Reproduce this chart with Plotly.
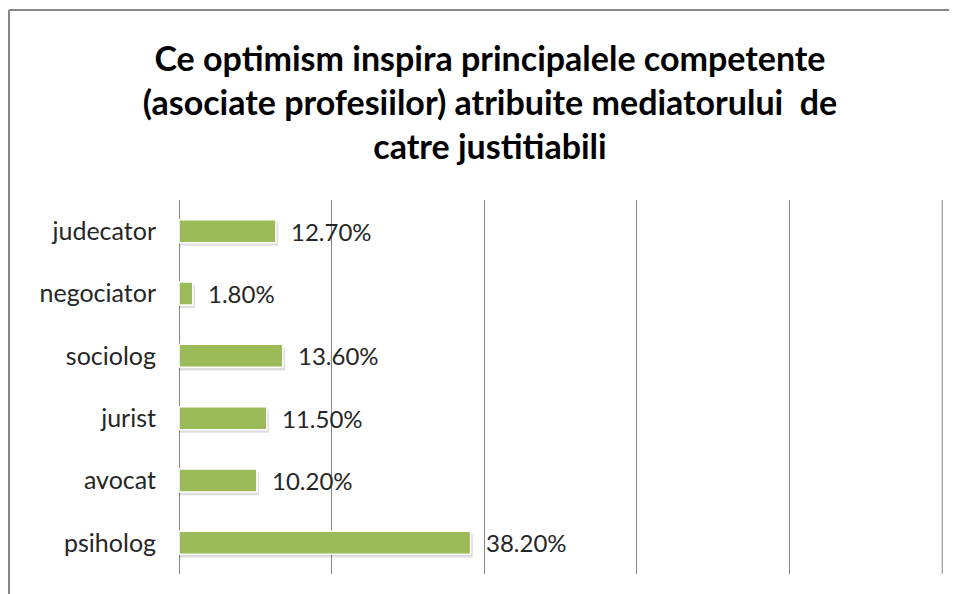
import plotly.graph_objects as go

categories = ["psiholog", "avocat", "jurist", "sociolog", "negociator", "judecator"]
values = [38.2, 10.2, 11.5, 13.6, 1.8, 12.7]
labels = [f"{v:.2f}%" for v in values]
x_max = 100

title_text = ("Ce optimism inspira principalele competente<br>"
              "(asociate profesiilor) atribuite mediatorului  de<br>"
              "catre justitiabili")

FONT = "Lato"
OFF = 8  # page body margin
W, H = 957 - OFF, 594 - OFF
L, T = 179 - OFF, 200 - OFF
R = W - (943 - OFF)
B = H - (574 - OFF)
pw, ph = W - L - R, H - T - B

BAR_W = 0.37
fig = go.Figure()
# soft drop shadow behind bars
fig.add_trace(go.Bar(
    y=categories, x=[v + 0.3 for v in values], orientation="h",
    marker=dict(color="rgba(0,0,0,0.13)", line=dict(width=0)),
    width=BAR_W, offset=-BAR_W / 2 - 0.05,
    hoverinfo="skip",
))
fig.add_trace(go.Bar(
    y=categories, x=values, orientation="h",
    marker=dict(color="#9BBB59", line=dict(color="#FFFFFF", width=1.5)),
    width=BAR_W, offset=-BAR_W / 2,
    hoverinfo="skip",
))

for c, v, t in zip(categories, values, labels):
    fig.add_annotation(x=v, y=c, text=t, showarrow=False, xanchor="left",
                       xshift=13, font=dict(family=FONT, size=24, color="#262626"))

def px_x(p):
    return (p - OFF - L) / pw

def px_y(p):
    return (H - B - (p - OFF)) / ph

frame_col = "#878787"
fig.add_shape(type="line", xref="paper", yref="paper",
              x0=px_x(9), x1=px_x(9), y0=px_y(10), y1=px_y(600),
              line=dict(color=frame_col, width=2))
fig.add_shape(type="line", xref="paper", yref="paper",
              x0=px_x(9), x1=px_x(960), y0=px_y(10), y1=px_y(10),
              line=dict(color=frame_col, width=2))
# gridline at the right end of the value axis
fig.add_shape(type="line", xref="x", yref="paper",
              x0=x_max, x1=x_max, y0=0, y1=1,
              line=dict(color="#868686", width=1))

fig.update_layout(
    width=W, height=H,
    margin=dict(l=L, r=R, t=T, b=B, pad=0),
    paper_bgcolor="white", plot_bgcolor="white",
    showlegend=False, barmode="overlay",
    title=dict(text=title_text, x=(490 - OFF) / W, xanchor="center",
               y=1 - 63 / H, yanchor="top",
               font=dict(family=FONT, size=34, color="#000000", weight="bold")),
    xaxis=dict(range=[0, x_max + 0.1], tick0=0, dtick=20, showticklabels=False, showgrid=True,
               gridcolor="#868686", gridwidth=1, zeroline=True, zerolinecolor="#868686",
               zerolinewidth=1, showline=False, ticks=""),
    yaxis=dict(categoryorder="array", categoryarray=categories, showgrid=False,
               showline=False, ticks="", ticklabelstandoff=22,
               tickfont=dict(family=FONT, size=25, color="#262626")),
)

fig.write_html("out.html")
